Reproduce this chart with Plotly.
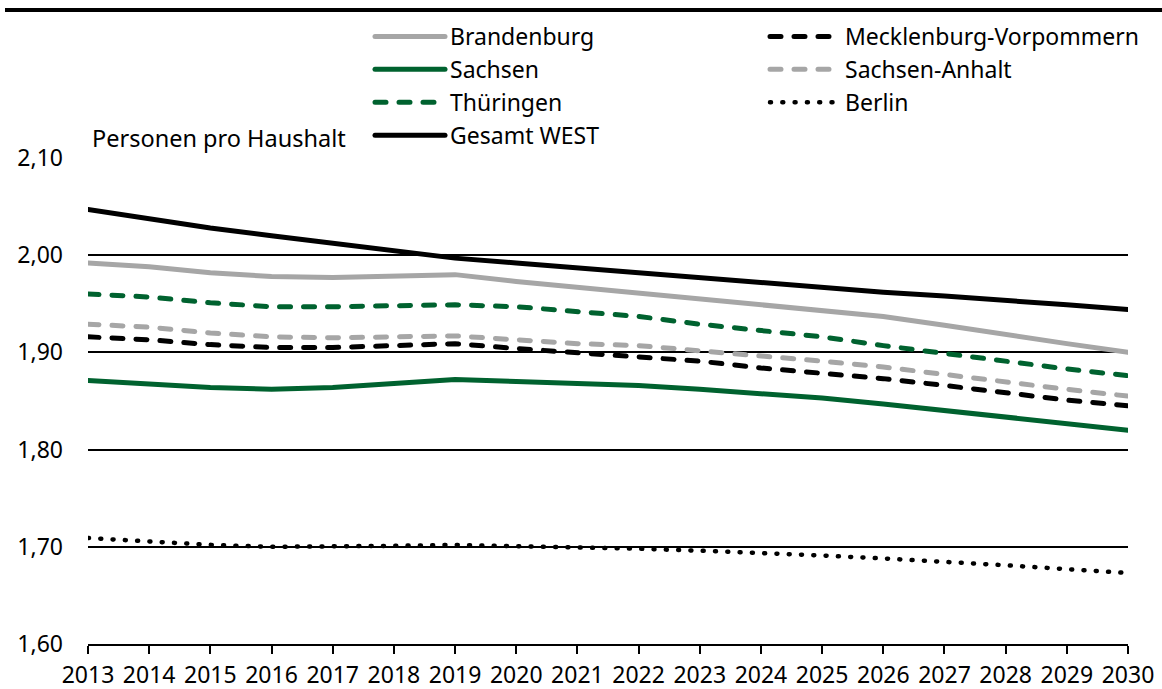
import plotly.graph_objects as go

years = list(range(2013, 2031))

brandenburg = [1.992, 1.988, 1.982, 1.978, 1.977, 1.978, 1.980, 1.973, 1.967, 1.961, 1.955, 1.949, 1.944, 1.937, 1.928, 1.918, 1.909, 1.900]
mecklenburg = [1.916, 1.913, 1.908, 1.905, 1.905, 1.907, 1.909, 1.904, 1.900, 1.896, 1.891, 1.884, 1.879, 1.873, 1.866, 1.858, 1.851, 1.845]
sachsen = [1.871, 1.867, 1.864, 1.862, 1.864, 1.868, 1.872, 1.870, 1.868, 1.866, 1.862, 1.858, 1.853, 1.847, 1.840, 1.833, 1.826, 1.820]
sachsen_anhalt = [1.929, 1.926, 1.920, 1.916, 1.915, 1.916, 1.917, 1.913, 1.909, 1.907, 1.902, 1.897, 1.891, 1.885, 1.877, 1.870, 1.862, 1.855]
thueringen = [1.960, 1.957, 1.951, 1.947, 1.947, 1.948, 1.949, 1.947, 1.942, 1.937, 1.929, 1.923, 1.916, 1.907, 1.899, 1.890, 1.883, 1.876]
berlin = [1.709, 1.705, 1.702, 1.700, 1.700, 1.701, 1.702, 1.701, 1.700, 1.698, 1.696, 1.694, 1.691, 1.688, 1.685, 1.681, 1.677, 1.673]
gesamt_west = [2.047, 2.037, 2.028, 2.020, 2.012, 2.004, 1.997, 1.992, 1.987, 1.981, 1.976, 1.971, 1.966, 1.962, 1.958, 1.954, 1.949, 1.944]

y_ticks = [1.6, 1.7, 1.8, 1.9, 2.0, 2.1]

GRAY = "#A6A6A6"
GREEN = "#00622F"
BLACK = "#000000"
FONT = "Noto Sans, Liberation Sans, sans-serif"
FS = 23
FS_TXT = 23.5

DASH = "11px,13px"
DOT = "1px,11.3px"

# legend order (row-wise, two columns)
series = [
    ("Brandenburg", brandenburg, GRAY, "solid", 5),
    ("Mecklenburg-Vorpommern", mecklenburg, BLACK, DASH, 5),
    ("Sachsen", sachsen, GREEN, "solid", 5),
    ("Sachsen-Anhalt", sachsen_anhalt, GRAY, DASH, 5),
    ("Thüringen", thueringen, GREEN, DASH, 5),
    ("Berlin", berlin, BLACK, DOT, 4.5),
    ("Gesamt WEST", gesamt_west, BLACK, "solid", 5),
]

fig = go.Figure()
for name, vals, color, dash, w in series:
    fig.add_trace(go.Scatter(
        x=years, y=vals, name=name, mode="lines",
        line=dict(color=color, width=w, dash=dash),
    ))

W, H = 1162, 689
L, R, T, B = 88, 34, 158, 45
pw, ph = W - L - R, H - T - B

def px(xp):
    return (xp - L) / pw

def py(yp):
    return (H - B - yp) / ph

fig.update_layout(
    width=W, height=H,
    margin=dict(l=L, r=R, t=T, b=B, pad=0, autoexpand=False),
    paper_bgcolor="white", plot_bgcolor="white",
    font=dict(family=FONT, size=FS, color="black"),
    separators=",.",
    showlegend=True,
    legend=dict(
        orientation="h", x=px(370), y=py(15), xanchor="left", yanchor="top",
        entrywidth=310, entrywidthmode="pixels", itemwidth=70,
        font=dict(size=23, family=FONT), bgcolor="rgba(0,0,0,0)",
        traceorder="normal", tracegroupgap=0,
    ),
    xaxis=dict(
        range=[2013, 2030], tickmode="array", tickvals=years,
        ticktext=[str(y) for y in years],
        showgrid=False, zeroline=False, automargin=False,
        showline=True, linecolor="black", linewidth=2,
        ticks="outside", ticklen=8, tickwidth=2, tickcolor="black",
        tickfont=dict(size=FS, family=FONT), ticklabelstandoff=1,
    ),
    yaxis=dict(
        range=[1.6, 2.1], tickvals=y_ticks, tickformat=".2f",
        showgrid=True, gridcolor="black", gridwidth=2,
        zeroline=False, showline=False, ticks="", automargin=False,
        tickfont=dict(size=FS, family=FONT), ticklabelstandoff=24,
    ),
    annotations=[
        dict(text="Personen pro Haushalt", x=px(90), y=py(138), xref="paper", yref="paper",
             xanchor="left", yanchor="middle", showarrow=False,
             font=dict(size=FS_TXT, family=FONT)),
    ],
    shapes=[
        dict(type="line", xref="paper", yref="paper",
             x0=px(5), x1=px(1162), y0=py(10), y1=py(10),
             line=dict(color="black", width=4)),
    ],
)

post = """
document.body.style.margin = '0';
document.querySelectorAll('path.js-line').forEach(function(p){
  p.style.strokeLinecap = 'round';
});
"""

fig.write_html("out.html", post_script=post, config={"displayModeBar": False})
